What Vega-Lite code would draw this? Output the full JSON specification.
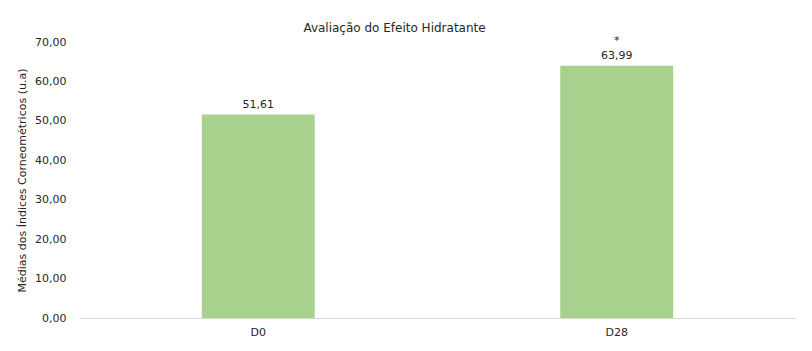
{
  "$schema": "https://vega.github.io/schema/vega-lite/v6.json",
  "width": 717,
  "height": 276,
  "autosize": {"type": "none"},
  "padding": {"left": 79, "top": 42, "right": 16, "bottom": 33},
  "background": "white",
  "config": {
    "locale": {"number": {"decimal": ",", "thousands": ".", "grouping": [3], "currency": ["R$", ""]}},
    "view": {"stroke": null},
    "font": "DejaVu Sans"
  },
  "title": {
    "text": "Avaliação do Efeito Hidratante",
    "fontSize": 12,
    "fontWeight": "normal",
    "color": "#262626",
    "anchor": "middle",
    "dx": -43,
    "offset": 0
  },
  "data": {
    "values": [
      {"dia": "D0", "media": 51.61, "sig": ""},
      {"dia": "D28", "media": 63.99, "sig": "*"}
    ]
  },
  "encoding": {
    "x": {
      "field": "dia",
      "type": "nominal",
      "sort": null,
      "scale": {"paddingInner": 0, "paddingOuter": 0},
      "axis": {
        "title": null,
        "labelAngle": 0,
        "labelFontSize": 11,
        "labelColor": "#262626",
        "labelPadding": 8,
        "ticks": false,
        "domainColor": "#d9d9d9",
        "domainWidth": 1
      }
    },
    "y": {
      "field": "media",
      "type": "quantitative",
      "scale": {"domain": [0, 70]},
      "axis": {
        "title": "Médias dos Índices Corneométricos (u.a)",
        "titleFontSize": 11,
        "titleFontWeight": "normal",
        "titleColor": "#262626",
        "titleX": -57,
        "titleY": 138,
        "titleAngle": -90,
        "titleAlign": "center",
        "titleBaseline": "middle",
        "values": [0, 10, 20, 30, 40, 50, 60, 70],
        "format": ".2f",
        "labelFontSize": 11,
        "labelColor": "#262626",
        "labelPadding": 13,
        "ticks": false,
        "domain": false,
        "grid": false
      }
    }
  },
  "layer": [
    {
      "mark": {"type": "bar", "color": "#A9D18E", "width": {"band": 0.315}}
    },
    {
      "mark": {"type": "text", "baseline": "alphabetic", "dy": -7, "fontSize": 11, "color": "#262626"},
      "encoding": {"text": {"field": "media", "type": "quantitative", "format": ".2f"}}
    },
    {
      "mark": {"type": "text", "baseline": "alphabetic", "dy": -22, "fontSize": 11, "color": "#262626"},
      "encoding": {"text": {"field": "sig", "type": "nominal"}}
    }
  ]
}
